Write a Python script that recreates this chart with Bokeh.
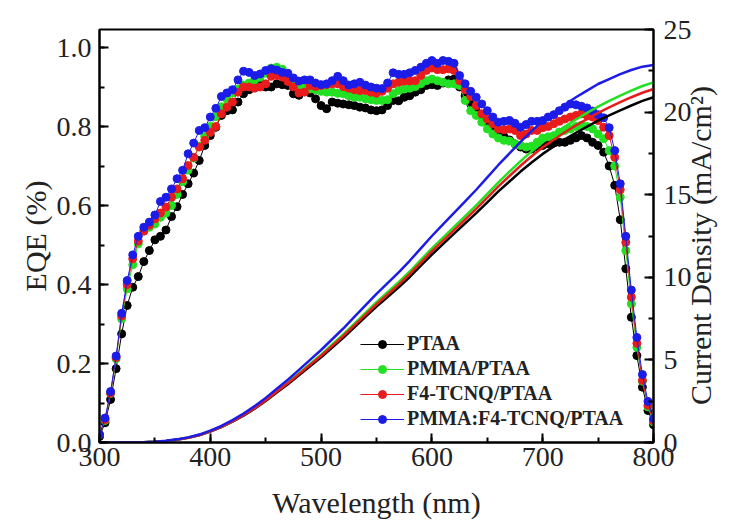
import math
from bokeh.plotting import figure
from bokeh.models import (Range1d, LinearAxis, SingleIntervalTicker, Legend,
                          LegendItem, NumeralTickFormatter)
from bokeh.embed import file_html
from bokeh.resources import INLINE

FONT = "Liberation Serif"

# ---------------- data ----------------
wl_eqe = list(range(300, 805, 5))     # nm, EQE sampled every 5 nm
wl_jsc = list(range(300, 810, 10))    # nm, integrated current every 10 nm

series_names = ["PTAA", "PMMA/PTAA", "F4-TCNQ/PTAA", "PMMA:F4-TCNQ/PTAA"]
series_colors = ["#000000", "#22e022", "#e81c1c", "#1c1ce8"]

eqe_ptaa = [
    0.015, 0.050, 0.109, 0.187, 0.275, 0.347, 0.393, 0.420, 0.458, 0.486,
    0.513, 0.522, 0.538, 0.572, 0.597, 0.628, 0.655, 0.682, 0.714, 0.752,
    0.777, 0.798, 0.828, 0.840, 0.842, 0.862, 0.883, 0.893, 0.901, 0.904,
    0.900, 0.900, 0.908, 0.906, 0.904, 0.883, 0.879, 0.891, 0.885, 0.870,
    0.853, 0.845, 0.862, 0.859, 0.857, 0.855, 0.853, 0.849, 0.847, 0.842,
    0.840, 0.842, 0.853, 0.866, 0.865, 0.874, 0.878, 0.887, 0.893, 0.904,
    0.906, 0.904, 0.910, 0.918, 0.920, 0.900, 0.878, 0.857, 0.840, 0.828,
    0.811, 0.798, 0.786, 0.775, 0.766, 0.756, 0.748, 0.743, 0.743, 0.748,
    0.752, 0.756, 0.758, 0.760, 0.760, 0.765, 0.771, 0.777, 0.771, 0.760,
    0.752, 0.735, 0.700, 0.651, 0.564, 0.440, 0.317, 0.220, 0.140, 0.081,
    0.045]
eqe_pmma = [
    0.020, 0.056, 0.124, 0.212, 0.313, 0.389, 0.450, 0.503, 0.538, 0.545,
    0.553, 0.570, 0.581, 0.600, 0.628, 0.660, 0.690, 0.720, 0.750, 0.775,
    0.800, 0.825, 0.850, 0.870, 0.885, 0.895, 0.905, 0.910, 0.918, 0.925,
    0.935, 0.948, 0.950, 0.945, 0.925, 0.908, 0.901, 0.897, 0.895, 0.893,
    0.889, 0.887, 0.887, 0.884, 0.883, 0.878, 0.874, 0.874, 0.870, 0.868,
    0.866, 0.866, 0.868, 0.883, 0.891, 0.895, 0.897, 0.901, 0.908, 0.916,
    0.920, 0.916, 0.912, 0.908, 0.908, 0.904, 0.866, 0.840, 0.828, 0.811,
    0.794, 0.781, 0.771, 0.765, 0.763, 0.756, 0.752, 0.748, 0.750, 0.760,
    0.771, 0.774, 0.777, 0.786, 0.790, 0.794, 0.800, 0.803, 0.800, 0.794,
    0.781, 0.769, 0.739, 0.700, 0.621, 0.486, 0.351, 0.241, 0.155, 0.090,
    0.052]
eqe_f4 = [
    0.020, 0.058, 0.125, 0.215, 0.320, 0.400, 0.465, 0.510, 0.535, 0.550,
    0.566, 0.581, 0.596, 0.621, 0.642, 0.668, 0.701, 0.722, 0.748, 0.765,
    0.785, 0.800, 0.832, 0.849, 0.862, 0.887, 0.900, 0.900, 0.897, 0.900,
    0.908, 0.927, 0.929, 0.925, 0.914, 0.900, 0.885, 0.887, 0.904, 0.901,
    0.904, 0.906, 0.908, 0.908, 0.901, 0.897, 0.893, 0.891, 0.891, 0.887,
    0.884, 0.889, 0.897, 0.908, 0.912, 0.915, 0.915, 0.916, 0.929, 0.942,
    0.948, 0.944, 0.944, 0.946, 0.942, 0.916, 0.893, 0.876, 0.853, 0.832,
    0.819, 0.807, 0.794, 0.792, 0.794, 0.790, 0.777, 0.781, 0.790, 0.790,
    0.797, 0.800, 0.807, 0.813, 0.819, 0.824, 0.828, 0.832, 0.828, 0.824,
    0.815, 0.798, 0.777, 0.722, 0.640, 0.507, 0.368, 0.251, 0.157, 0.094,
    0.055]
eqe_pmma_f4 = [
    0.020, 0.062, 0.129, 0.219, 0.327, 0.410, 0.475, 0.522, 0.545, 0.558,
    0.576, 0.610, 0.621, 0.642, 0.668, 0.689, 0.731, 0.758, 0.790, 0.797,
    0.824, 0.846, 0.876, 0.885, 0.893, 0.918, 0.940, 0.937, 0.929, 0.933,
    0.942, 0.946, 0.943, 0.937, 0.935, 0.923, 0.915, 0.918, 0.918, 0.910,
    0.906, 0.908, 0.916, 0.927, 0.916, 0.905, 0.908, 0.912, 0.905, 0.900,
    0.897, 0.896, 0.910, 0.936, 0.932, 0.932, 0.936, 0.942, 0.950, 0.960,
    0.967, 0.960, 0.967, 0.965, 0.960, 0.929, 0.908, 0.889, 0.874, 0.857,
    0.840, 0.824, 0.811, 0.813, 0.815, 0.808, 0.798, 0.805, 0.813, 0.813,
    0.815, 0.824, 0.830, 0.840, 0.849, 0.857, 0.855, 0.851, 0.847, 0.839,
    0.830, 0.822, 0.797, 0.739, 0.655, 0.522, 0.386, 0.266, 0.172, 0.104,
    0.060]

jsc_ptaa = [
    0, 0, 0, 0, 0.01, 0.04, 0.09, 0.17, 0.28, 0.44,
    0.66, 0.93, 1.26, 1.63, 2.05, 2.51, 3.02, 3.52, 4.07, 4.62,
    5.16, 5.75, 6.34, 6.97, 7.60, 8.23, 8.81, 9.39, 10.02, 10.70,
    11.38, 12.01, 12.64, 13.26, 13.88, 14.54, 15.20, 15.80, 16.40, 16.95,
    17.47, 17.92, 18.35, 18.75, 19.12, 19.48, 19.80, 20.10, 20.40, 20.68,
    20.90]
jsc_pmma = [
    0, 0, 0, 0, 0.01, 0.04, 0.09, 0.18, 0.30, 0.46,
    0.69, 0.96, 1.30, 1.68, 2.11, 2.59, 3.11, 3.63, 4.19, 4.76,
    5.32, 5.93, 6.54, 7.19, 7.84, 8.49, 9.10, 9.70, 10.35, 11.05,
    11.75, 12.40, 13.05, 13.70, 14.35, 15.05, 15.75, 16.40, 17.03, 17.62,
    18.17, 18.65, 19.12, 19.55, 19.95, 20.33, 20.68, 21.00, 21.30, 21.58,
    21.80]
jsc_f4 = [
    0, 0, 0, 0, 0.01, 0.04, 0.09, 0.18, 0.29, 0.45,
    0.68, 0.95, 1.28, 1.66, 2.08, 2.55, 3.07, 3.58, 4.14, 4.70,
    5.25, 5.85, 6.45, 7.09, 7.73, 8.37, 8.96, 9.56, 10.20, 10.89,
    11.58, 12.22, 12.86, 13.50, 14.14, 14.82, 15.50, 16.13, 16.75, 17.33,
    17.87, 18.33, 18.78, 19.20, 19.58, 19.95, 20.28, 20.60, 20.90, 21.17,
    21.40]
jsc_pmma_f4 = [
    0, 0, 0, 0, 0.01, 0.04, 0.10, 0.19, 0.31, 0.48,
    0.72, 1.00, 1.35, 1.75, 2.20, 2.70, 3.25, 3.80, 4.40, 5.00,
    5.60, 6.25, 6.90, 7.60, 8.30, 9.00, 9.65, 10.30, 11.00, 11.75,
    12.50, 13.20, 13.90, 14.60, 15.30, 16.05, 16.80, 17.50, 18.20, 18.85,
    19.45, 19.95, 20.45, 20.90, 21.30, 21.70, 22.00, 22.30, 22.55, 22.75,
    22.85]

eqe_all = [eqe_ptaa, eqe_pmma, eqe_f4, eqe_pmma_f4]
jsc_all = [jsc_ptaa, jsc_pmma, jsc_f4, jsc_pmma_f4]

right_title = "\u00a0\u00a0\u00a0\u00a0\u00a0Current Density (mA/cm²)"

# ---------------- figure ----------------
p = figure(width=737, height=523,
           x_range=Range1d(300, 800), y_range=Range1d(0, 1.0456),
           output_backend="svg", toolbar_location=None,
           min_border_left=99, min_border_right=84,
           min_border_top=29, min_border_bottom=81,
           background_fill_color="white", border_fill_color="white")
p.xgrid.visible = False
p.ygrid.visible = False
p.outline_line_color = "black"
p.outline_line_width = 2
p.outline_line_alpha = 1

p.extra_y_ranges = {"j": Range1d(0, 25)}
ax_r = LinearAxis(y_range_name="j", axis_label=right_title,
                  ticker=SingleIntervalTicker(interval=5, num_minor_ticks=2))
p.add_layout(ax_r, "right")

ax_b = p.below[0]
ax_l = p.left[0]
ax_b.ticker = SingleIntervalTicker(interval=100, num_minor_ticks=2)
ax_l.ticker = SingleIntervalTicker(interval=0.2, num_minor_ticks=2)
ax_l.formatter = NumeralTickFormatter(format="0.0")
ax_b.axis_label = "Wavelength (nm)"
ax_l.axis_label = "EQE (%)"

for ax in (ax_b, ax_l, ax_r):
    ax.axis_line_color = "black"
    ax.axis_line_width = 2
    ax.major_tick_in = 9
    ax.major_tick_out = 0
    ax.minor_tick_in = 5
    ax.minor_tick_out = 0
    ax.major_tick_line_width = 2
    ax.minor_tick_line_width = 2
    ax.major_tick_line_color = "black"
    ax.minor_tick_line_color = "black"
    ax.major_label_text_font = FONT
    ax.major_label_text_font_size = "28px"
    ax.major_label_text_color = "#222222"
    ax.axis_label_text_font = FONT
    ax.axis_label_text_font_size = "30px"
    ax.axis_label_text_font_style = "normal"
    ax.axis_label_text_color = "#222222"

ax_b.major_label_standoff = 5
ax_b.axis_label_standoff = 17
ax_l.major_label_standoff = 8
ax_l.axis_label_standoff = 2
ax_r.major_label_standoff = 10
# right-hand title reads bottom-to-top and starts near the bottom of the axis
ax_r.axis_label_text_font_size = "30px"
ax_r.axis_label_standoff = 6
ax_r.axis_label_orientation = math.pi / 2
ax_r.axis_label_align = "start"

items = []
for name, col, eqe in zip(series_names, series_colors, eqe_all):
    ln = p.line(wl_eqe, eqe, line_color=col, line_width=1)
    sc = p.scatter(wl_eqe, eqe, marker="circle", size=8,
                   fill_color=col, line_color=col)
    items.append(LegendItem(label=name, renderers=[ln, sc]))

for col, jsc in zip(series_colors, jsc_all):
    p.line(wl_jsc, jsc, y_range_name="j", line_color=col, line_width=2.5)

legend = Legend(items=items, location=(261, 12))
legend.label_text_font = FONT
legend.label_text_font_size = "20px"
legend.label_text_font_style = "bold"
legend.label_text_color = "#222222"
legend.glyph_width = 44
legend.glyph_height = 20
legend.label_height = 20
legend.label_standoff = 3
legend.spacing = 2
legend.padding = 0
legend.margin = 0
legend.border_line_alpha = 0
legend.background_fill_alpha = 0
p.add_layout(legend)

open("out.html", "w").write(file_html(p, INLINE))
